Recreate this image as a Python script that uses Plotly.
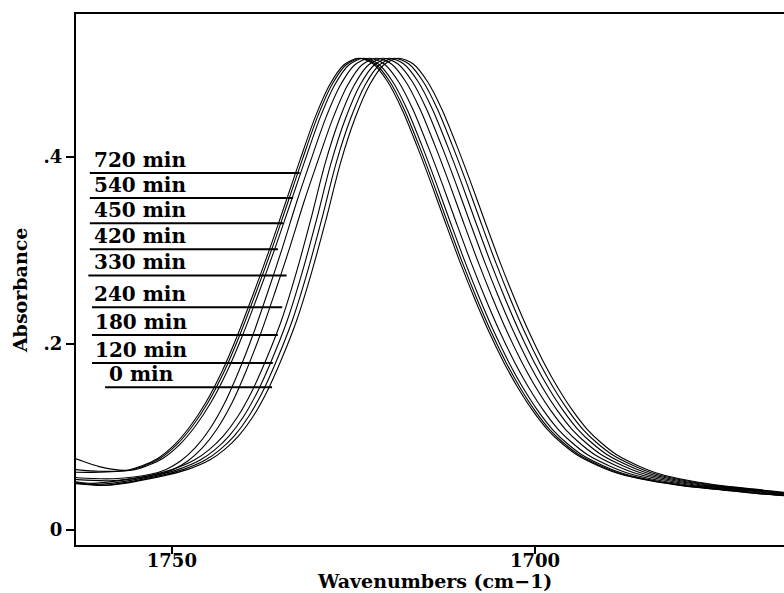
import plotly.graph_objects as go

# ---------------- data ----------------
TIMES = ["720 min", "540 min", "450 min", "420 min", "330 min",
         "240 min", "180 min", "120 min", "0 min"]

WN_720 = [1767, 1763.5, 1760, 1756.3, 1754.1, 1751.9, 1749.7, 1747.5, 1745.3, 1743.1, 1740.9, 1738.7, 1736.5, 1734.3, 1732.3, 1730.3, 1728.3, 1726.3, 1724.3,
          1722.3, 1720.3, 1718.3, 1716.3, 1714.3, 1712.3, 1710.3, 1708.3, 1706.3, 1704.3, 1702.3, 1700.3, 1698.3, 1696.3, 1694.3, 1691.3, 1688.3, 1684.3, 1679.3, 1674.3, 1669.3, 1664.3]
AB_720 = [.085, .077, .068, .064, .069, .077, .091, .111, .137, .170, .210, .255, .302, .352, .398, .442, .477, .499, .506,
          .500, .481, .451, .413, .372, .329, .287, .248, .212, .180, .152, .128, .108, .093, .081, .069, .060, .053, .047, .043, .039, .036]

WN_540 = [1767, 1763.5, 1760, 1756.0, 1753.8, 1751.6, 1749.4, 1747.2, 1745.0, 1742.8, 1740.6, 1738.4, 1736.2, 1734.0, 1732.0, 1730.0, 1728.0, 1726.0, 1724.0,
          1722.0, 1720.0, 1718.0, 1716.0, 1714.0, 1712.0, 1710.0, 1708.0, 1706.0, 1704.0, 1702.0, 1700.0, 1698.0, 1696.0, 1694.0, 1691.0, 1688.0, 1684.0, 1679.0, 1674.0, 1669.0, 1664.0]
AB_540 = [.068, .065, .063, .064, .069, .077, .091, .111, .137, .170, .210, .255, .302, .352, .398, .442, .477, .499, .506,
          .500, .481, .451, .413, .372, .329, .287, .248, .212, .180, .152, .128, .108, .093, .081, .069, .060, .053, .047, .043, .039, .036]

WN_450 = [1767, 1763.5, 1760, 1755.6, 1753.4, 1751.2, 1749.0, 1746.8, 1744.6, 1742.4, 1740.2, 1738.0, 1735.8, 1733.6, 1731.6, 1729.6, 1727.6, 1725.6, 1723.6,
          1721.6, 1719.6, 1717.6, 1715.6, 1713.6, 1711.6, 1709.6, 1707.6, 1705.6, 1703.6, 1701.6, 1699.6, 1697.6, 1695.6, 1693.6, 1690.6, 1687.6, 1683.6, 1678.6, 1673.6, 1668.6, 1663.6]
AB_450 = [.064, .062, .062, .064, .069, .077, .091, .111, .137, .170, .210, .255, .302, .352, .398, .442, .477, .499, .506,
          .500, .481, .451, .413, .372, .329, .287, .248, .212, .180, .152, .128, .108, .093, .081, .069, .060, .053, .047, .043, .039, .036]

WN_420 = [1767, 1763, 1758, 1752.8, 1750.8, 1748.8, 1746.8, 1744.8, 1742.8, 1740.8, 1738.8, 1736.8, 1734.8, 1732.8, 1730.8, 1728.8, 1726.8, 1724.8, 1722.8,
          1720.8, 1718.8, 1716.8, 1714.8, 1712.8, 1710.8, 1708.8, 1706.8, 1704.8, 1702.8, 1700.8, 1698.8, 1696.8, 1694.8, 1692.8, 1689.8, 1686.8, 1682.8, 1677.8, 1672.8, 1667.8, 1662.8]
AB_420 = [.059, .056, .055, .060, .065, .074, .088, .108, .135, .170, .210, .255, .302, .352, .398, .442, .477, .499, .506,
          .500, .481, .451, .413, .372, .329, .287, .248, .212, .180, .152, .128, .108, .093, .081, .069, .060, .053, .047, .043, .039, .036]

WN_330 = [1767, 1763, 1758, 1751.8, 1749.8, 1747.8, 1745.8, 1743.8, 1741.8, 1739.8, 1737.8, 1735.8, 1733.8, 1731.8, 1729.8, 1727.8, 1725.8, 1723.8, 1721.8,
          1719.8, 1717.8, 1715.8, 1713.8, 1711.8, 1709.8, 1707.8, 1705.8, 1703.8, 1701.8, 1699.8, 1697.8, 1695.8, 1693.8, 1691.8, 1688.8, 1685.8, 1681.8, 1676.8, 1671.8, 1666.8, 1661.8]
AB_330 = [.057, .054, .053, .060, .065, .074, .088, .108, .135, .170, .210, .255, .302, .352, .398, .442, .477, .499, .506,
          .500, .481, .451, .413, .372, .329, .287, .248, .212, .180, .152, .128, .108, .093, .081, .069, .060, .053, .047, .043, .039, .036]

WN_240 = [1767, 1763.5, 1760.9, 1753.9, 1749.9, 1746.9, 1744.9, 1742.9, 1740.9, 1738.9, 1736.9, 1734.9, 1732.9, 1730.9, 1728.9, 1726.9, 1724.9, 1722.9, 1720.9,
          1718.9, 1716.9, 1714.9, 1712.9, 1710.9, 1708.9, 1706.9, 1704.9, 1702.9, 1700.9, 1698.9, 1696.9, 1694.9, 1692.9, 1690.9, 1687.9, 1684.9, 1680.9, 1675.9, 1670.9, 1665.9, 1660.9]
AB_240 = [.057, .052, .050, .057, .065, .075, .086, .101, .122, .150, .185, .225, .275, .332, .393, .441, .477, .499, .506,
          .500, .481, .451, .413, .372, .329, .287, .248, .212, .180, .152, .128, .108, .093, .081, .069, .060, .053, .047, .043, .039, .036]

WN_180 = [1767, 1763.5, 1760.1, 1753.1, 1749.1, 1746.1, 1744.1, 1742.1, 1740.1, 1738.1, 1736.1, 1734.1, 1732.1, 1730.1, 1728.1, 1726.1, 1724.1, 1722.1, 1720.1,
          1718.1, 1716.1, 1714.1, 1712.1, 1710.1, 1708.1, 1706.1, 1704.1, 1702.1, 1700.1, 1698.1, 1696.1, 1694.1, 1692.1, 1690.1, 1687.1, 1684.1, 1680.1, 1675.1, 1670.1, 1665.1, 1660.1]
AB_180 = [.056, .051, .049, .057, .065, .075, .086, .101, .122, .150, .185, .225, .275, .332, .393, .441, .477, .499, .506,
          .500, .481, .451, .413, .372, .329, .287, .248, .212, .180, .152, .128, .108, .093, .081, .069, .060, .053, .047, .043, .039, .036]

WN_120 = [1767, 1763.5, 1759.4, 1752.4, 1748.4, 1745.4, 1743.4, 1741.4, 1739.4, 1737.4, 1735.4, 1733.4, 1731.4, 1729.4, 1727.4, 1725.4, 1723.4, 1721.4, 1719.4,
          1717.4, 1715.4, 1713.4, 1711.4, 1709.4, 1707.4, 1705.4, 1703.4, 1701.4, 1699.4, 1697.4, 1695.4, 1693.4, 1691.4, 1689.4, 1686.4, 1683.4, 1679.4, 1674.4, 1669.4, 1664.4, 1659.4]
AB_120 = [.055, .051, .048, .057, .065, .075, .086, .101, .122, .150, .185, .225, .275, .332, .393, .441, .477, .499, .506,
          .500, .481, .451, .413, .372, .329, .287, .248, .212, .180, .152, .128, .108, .093, .081, .069, .060, .053, .047, .043, .039, .036]

WN_0 = [1767, 1763.5, 1758.8, 1751.8, 1747.8, 1744.8, 1742.8, 1740.8, 1738.8, 1736.8, 1734.8, 1732.8, 1730.8, 1728.8, 1726.8, 1724.8, 1722.8, 1720.8, 1718.8,
        1716.8, 1714.8, 1712.8, 1710.8, 1708.8, 1706.8, 1704.8, 1702.8, 1700.8, 1698.8, 1696.8, 1694.8, 1692.8, 1690.8, 1688.8, 1685.8, 1682.8, 1678.8, 1673.8, 1668.8, 1663.8, 1658.8]
AB_0 = [.054, .050, .048, .057, .065, .075, .086, .101, .122, .150, .185, .225, .275, .332, .393, .441, .477, .499, .506,
        .500, .481, .451, .413, .372, .329, .287, .248, .212, .180, .152, .128, .108, .093, .081, .069, .060, .053, .047, .043, .039, .036]

# label pointer lines: absorbance level, start / end wavenumber
LABEL_LEVEL = [0.383, 0.356, 0.329, 0.301, 0.273, 0.239, 0.209, 0.179, 0.153]
LABEL_START = [1761.3, 1761.3, 1761.3, 1761.3, 1761.5, 1761.0, 1761.0, 1761.0, 1759.2]
LABEL_END = [1732.4, 1733.3, 1734.7, 1735.4, 1734.2, 1734.8, 1735.4, 1736.1, 1736.2]
LABEL_TEXT_X = [1761.0, 1761.0, 1761.0, 1761.0, 1761.0, 1761.0, 1760.8, 1760.8, 1759.0]

Y_TICKS = [0, 0.2, 0.4]
Y_TICKTEXT = ["0", ".2", ".4"]
X_TICKS = [1750, 1700]
X_RANGE = [1763.2, 1665.7]
Y_RANGE = [-0.0161, 0.5534]

SPECTRA = [(WN_720, AB_720), (WN_540, AB_540), (WN_450, AB_450), (WN_420, AB_420),
           (WN_330, AB_330), (WN_240, AB_240), (WN_180, AB_180), (WN_120, AB_120),
           (WN_0, AB_0)]

FONT = "DejaVu Serif"

fig = go.Figure()
for (wn, ab), name in zip(SPECTRA, TIMES):
    fig.add_trace(go.Scatter(x=wn, y=ab, mode="lines", name=name,
                             line=dict(color="black", width=1.1, shape="spline", smoothing=0.8),
                             showlegend=False, hoverinfo="skip"))

for lvl, xs, xe, tx, txt in zip(LABEL_LEVEL, LABEL_START, LABEL_END, LABEL_TEXT_X, TIMES):
    fig.add_trace(go.Scatter(x=[xs, xe], y=[lvl, lvl], mode="lines",
                             line=dict(color="black", width=2),
                             showlegend=False, hoverinfo="skip"))
    fig.add_annotation(x=tx, y=lvl, text=txt, showarrow=False,
                       xanchor="left", yanchor="bottom", yshift=-1,
                       font=dict(family=FONT, size=20, color="black", weight="bold"))

# axis titles
fig.add_annotation(xref="paper", yref="paper", x=0.507, y=-0.067,
                   text="Wavenumbers (cm\u22121)", showarrow=False,
                   xanchor="center", yanchor="middle",
                   font=dict(family=FONT, size=19, color="black", weight="bold"))
fig.add_annotation(xref="paper", yref="paper", x=-0.0791, y=0.48,
                   text="Absorbance", showarrow=False, textangle=-90,
                   xanchor="center", yanchor="middle",
                   font=dict(family=FONT, size=19, color="black", weight="bold"))

fig.update_layout(
    width=784, height=593,
    margin=dict(l=76, r=0, t=14, b=48),
    plot_bgcolor="white", paper_bgcolor="white",
    font=dict(family=FONT, size=18, color="black", weight="bold"),
    xaxis=dict(range=X_RANGE, tickvals=X_TICKS, ticks="outside", ticklen=7, tickwidth=1.5,
               tickcolor="black", showline=True, linecolor="black", linewidth=2,
               mirror=True, showgrid=False, zeroline=False, ticklabelstandoff=-9,
               tickfont=dict(family=FONT, size=18, weight="bold")),
    yaxis=dict(range=Y_RANGE, tickvals=Y_TICKS, ticktext=Y_TICKTEXT, ticks="outside",
               ticklen=8, tickwidth=1.5, tickcolor="black", showline=True,
               linecolor="black", linewidth=2, showgrid=False, zeroline=False,
               tickfont=dict(family=FONT, size=18, weight="bold")),
)

fig.write_html("out.html")
